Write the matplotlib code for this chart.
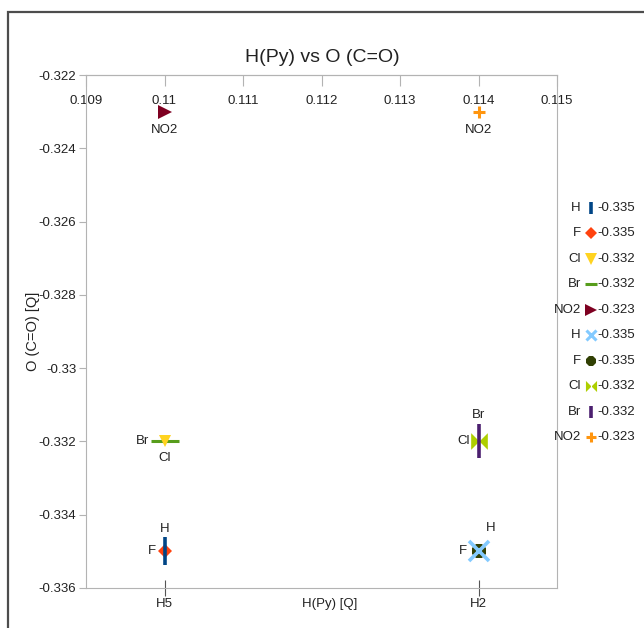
import numpy as np
import matplotlib
matplotlib.use("Agg")
import matplotlib.pyplot as plt
from matplotlib.path import Path
from matplotlib.patches import Rectangle
from matplotlib.ticker import MultipleLocator, FuncFormatter

plt.rcParams['font.family'] = ['Liberation Sans', 'DejaVu Sans']

# data
positions = ['H5', 'H2']
pos_x = [0.110, 0.114]
substituents = ['H', 'F', 'Cl', 'Br', 'NO2']
o_h5 = [-0.335, -0.335, -0.332, -0.332, -0.323]
o_h2 = [-0.335, -0.335, -0.332, -0.332, -0.323]
o_values = [o_h5, o_h2]
hpy_ticks = [0.109, 0.110, 0.111, 0.112, 0.113, 0.114, 0.115]

# horizontal bowtie marker
bowtie = Path([(-1, 1), (0, 0), (-1, -1), (-1, 1), (1, 1), (0, 0), (1, -1), (1, 1)],
              [Path.MOVETO, Path.LINETO, Path.LINETO, Path.CLOSEPOLY,
               Path.MOVETO, Path.LINETO, Path.LINETO, Path.CLOSEPOLY])

# style per series: (marker, size, edge width, colour, zorder) - H5 then H2
styles = [
    [('|', 20, 2.6, '#004586', 5), ('D', 7, 0, '#ff420e', 4), ('v', 9, 0, '#ffd320', 5),
     ('_', 20, 2.2, '#579d1c', 4), ('>', 10, 0, '#7e0021', 4)],
    [('x', 14, 2.6, '#83caff', 5), ('8', 11, 0, '#314004', 4), (bowtie, 12, 0, '#aecf00', 4),
     ('|', 24, 2.6, '#4b1f6f', 5), ('+', 9, 2.2, '#ff950e', 4)],
]
leg_styles = [
    [('|', 8, 2.6, '#004586'), ('D', 6, 0, '#ff420e'), ('v', 8, 0, '#ffd320'),
     ('_', 8, 2.2, '#579d1c'), ('>', 8, 0, '#7e0021')],
    [('x', 7, 2.2, '#83caff'), ('8', 8, 0, '#314004'), (bowtie, 8, 0, '#aecf00'),
     ('|', 8, 2.6, '#4b1f6f'), ('+', 7, 2.2, '#ff950e')],
]
# data label offsets in points
label_offsets = [
    [(0, 16), (-9, 0), (0, -12), (-16, 0), (0, -13)],
    [(9, 17), (-11, 0), (-11, 0), (0, 19), (0, -13)],
]

fs = 9.5
txt = '#222222'

fig = plt.figure(figsize=(6.44, 6.28), dpi=100)
fig.patches.append(Rectangle((8 / 644, -0.1), 1.2, 1 - 12 / 628 + 0.1, transform=fig.transFigure,
                             fill=False, edgecolor='#4d4d4d', linewidth=1.6))

ax = fig.add_axes([86 / 644, 1 - 588 / 628, (557 - 86) / 644, (588 - 75) / 628])
ax.set_xlim(0.109, 0.115)
ax.set_ylim(-0.336, -0.322)

for g, xv in enumerate(pos_x):
    for i, name in enumerate(substituents):
        m, s, mew, c, z = styles[g][i]
        ax.plot([xv], [o_values[g][i]], linestyle='none', marker=m, markersize=s,
                markeredgewidth=mew, color=c, zorder=z, clip_on=False)
        ax.annotate(name, (xv, o_values[g][i]), xytext=label_offsets[g][i],
                    textcoords='offset points', ha='center', va='center',
                    fontsize=fs, color=txt)

grey = '#b3b3b3'
for sp in ax.spines.values():
    sp.set_color(grey)

fmt = FuncFormatter(lambda v, p: f'{round(v, 6):g}')
ax.yaxis.set_major_locator(MultipleLocator(0.002))
ax.yaxis.set_major_formatter(fmt)
ax.tick_params(axis='y', direction='out', length=5, color=grey, labelsize=fs, pad=2,
               labelcolor=txt)

ax.set_xticks(pos_x, positions)
ax.tick_params(axis='x', direction='inout', length=11, color='#555555', labelsize=fs, pad=2,
               labelcolor=txt)

top = ax.secondary_xaxis('top')
top.set_xticks(hpy_ticks)
top.xaxis.set_major_formatter(fmt)
top.tick_params(direction='in', length=8, color=grey, labelsize=fs, pad=-23, labelcolor=txt)
top.spines['top'].set_color(grey)

ax.set_xlabel('H(Py) [Q]', fontsize=fs, color=txt)
ax.xaxis.set_label_coords((330 - 86) / 471, -0.02)
ax.set_ylabel('O (C=O) [Q]', fontsize=10.5, color=txt)
ax.yaxis.set_label_coords(-0.098, 0.5)

fig.text(322 / 644, 1 - 58 / 628, 'H(Py) vs O (C=O)', ha='center', va='center', fontsize=14,
         color=txt)

# legend drawn in its own axes: name, symbol, value
leg = fig.add_axes([548 / 644, 1 - 450 / 628, 96 / 644, (450 - 195) / 628])
leg.set_xlim(548, 644)
leg.set_ylim(9.5, -0.5)
leg.axis('off')
row = 0
for g in range(len(positions)):
    for i, name in enumerate(substituents):
        m, s, mew, c = leg_styles[g][i]
        leg.plot([591], [row], linestyle='none', marker=m, markersize=s,
                 markeredgewidth=mew, color=c)
        leg.text(581, row, name, ha='right', va='center', fontsize=fs, color=txt)
        leg.text(597, row, f'{o_values[g][i]:g}', ha='left', va='center', fontsize=fs,
                 color=txt)
        row += 1

fig.savefig('out.png', dpi=100)
